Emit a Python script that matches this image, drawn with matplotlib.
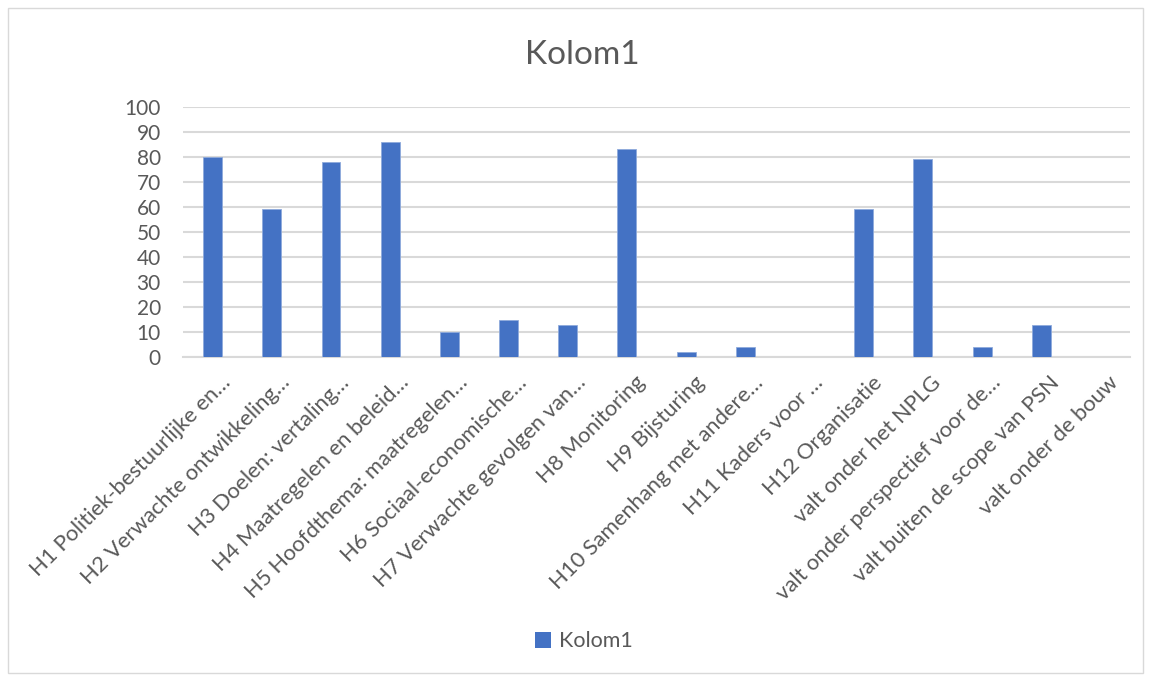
import numpy as np
import matplotlib.pyplot as plt
import matplotlib.transforms as mtransforms
from matplotlib.patches import Rectangle, Patch

categories = [
    'H1 Politiek-bestuurlijke en…',
    'H2 Verwachte ontwikkeling…',
    'H3 Doelen: vertaling…',
    'H4 Maatregelen en beleid…',
    'H5 Hoofdthema: maatregelen…',
    'H6 Sociaal-economische…',
    'H7 Verwachte gevolgen van…',
    'H8 Monitoring',
    'H9 Bijsturing',
    'H10 Samenhang met andere…',
    'H11 Kaders voor …',
    'H12 Organisatie',
    'valt onder het NPLG',
    'valt onder perspectief voor de…',
    'valt buiten de scope van PSN',
    'valt onder de bouw',
]
values = [80, 59, 78, 86, 10, 15, 13, 83, 2, 4, 0, 59, 79, 4, 13, 0]
y_ticks = list(range(0, 101, 10))
series_name = 'Kolom1'

text_color = '#595959'
bar_color = '#4472c4'
grid_color = '#d9d9d9'

plt.rcParams['font.family'] = ['Lato', 'DejaVu Sans']

fig = plt.figure(figsize=(11.49, 6.75), dpi=100)
ax = fig.add_axes([0.1593, 0.4711, 0.8242, 0.3704])

x = np.arange(len(categories))
ax.bar(x, values, width=0.32, color=bar_color, edgecolor='#8faadc', linewidth=0.6, zorder=3)

ax.set_xlim(-0.5, len(categories) - 0.5)
ax.set_ylim(0, 100)
ax.set_yticks(y_ticks)
ax.set_yticklabels([str(v) for v in y_ticks], fontsize=15, color=text_color)
ax.grid(axis='y', color=grid_color, linewidth=1.5, zorder=0)
ax.tick_params(axis='y', length=0, pad=16)
ax.tick_params(axis='x', length=0, pad=11)
for s in ['top', 'right', 'left']:
    ax.spines[s].set_visible(False)
ax.spines['bottom'].set_color(grid_color)
ax.spines['bottom'].set_linewidth(1.5)

ax.set_xticks(x)
ax.set_xticklabels(categories, rotation=45, ha='right', va='top',
                   rotation_mode='anchor', fontsize=15.8, color=text_color)
shift = mtransforms.ScaledTranslation(0.08, 0.0, fig.dpi_scale_trans)
for lbl in ax.get_xticklabels():
    lbl.set_transform(lbl.get_transform() + shift)

fig.text(0.507, 0.918, series_name, ha='center', va='center', fontsize=24, color=text_color)

fig.legend(handles=[Patch(facecolor=bar_color, label=series_name)], loc='center',
           bbox_to_anchor=(0.508, 0.05), frameon=False, fontsize=15.5,
           labelcolor=text_color, handlelength=0.75, handleheight=0.75, handletextpad=0.35)

fig.patches.append(Rectangle((0.007, 0.003), 0.988, 0.985, transform=fig.transFigure,
                             fill=False, edgecolor=grid_color, linewidth=1))

fig.savefig('out.png', dpi=100)
